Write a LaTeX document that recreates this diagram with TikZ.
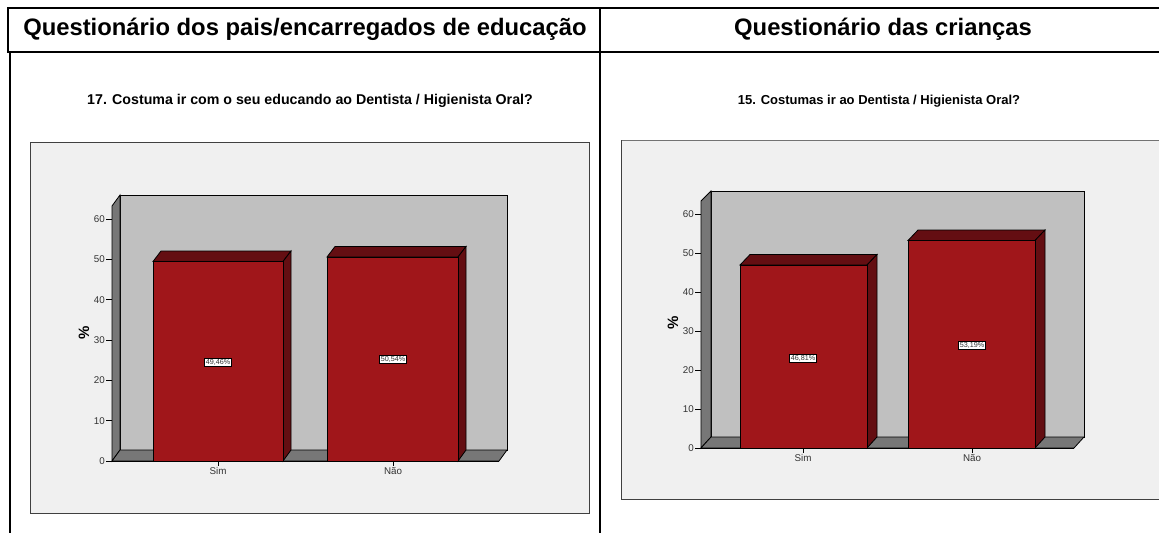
\documentclass[tikz,border=0pt]{standalone}
\usepackage{fontspec}
\setmainfont{Liberation Sans}
\definecolor{framebg}{HTML}{F0F0F0}
\definecolor{wallbg}{HTML}{C0C0C0}
\definecolor{sidegray}{HTML}{777777}
\definecolor{barfront}{HTML}{A0161A}
\definecolor{bardark}{HTML}{640E12}
\tikzset{
  x=1pt, y=-1pt,
  tableline/.style={line width=2pt, black},
  header/.style={font=\bfseries\fontsize{23.8}{28}\selectfont, anchor=base, inner sep=0pt},
  charttitle/.style={font=\bfseries\fontsize{14.2}{17}\selectfont, anchor=base, inner sep=0pt},
  framebox/.style={fill=framebg, draw=black!75, line width=0.8pt},
  wall/.style={fill=wallbg, draw=black, line width=0.8pt},
  side/.style={fill=sidegray, draw=black, line width=0.8pt},
  front/.style={fill=barfront, draw=black, line width=0.8pt},
  dark/.style={fill=bardark, draw=black, line width=0.8pt},
  ticklab/.style={font=\fontsize{9.8}{11}\selectfont, anchor=east, inner sep=1pt, text=black!80},
  catlab/.style={font=\fontsize{9.8}{11}\selectfont, anchor=north, inner sep=1pt, text=black!80},
  vallab/.style={font=\fontsize{7.2}{8}\selectfont, fill=white, draw=black, line width=0.6pt, inner sep=1.2pt, text=black!80},
  pctlab/.style={font=\bfseries\fontsize{15}{17}\selectfont, rotate=90},
}
\begin{document}
\begin{tikzpicture}
\useasboundingbox (0,0) rectangle (1159,533);
\fill[white] (0,0) rectangle (1159,533);

% ---------------- left chart ----------------
\draw[framebox] (30,142) rectangle (589,513);
% back wall, left wall, floor
\draw[wall] (120,195) rectangle (507,450);
\draw[side] (112,206) -- (120,195) -- (120,450) -- (112,461) -- cycle;
\draw[side] (112,461) -- (120,450) -- (507,450) -- (499,461) -- cycle;
% ticks
\foreach \v [evaluate=\v as \yy using 461-\v*4.033] in {0,10,...,60}{
  \draw[line width=0.7pt] (106,\yy) -- (112,\yy);
  \node[ticklab] (lt\v) at (106,\yy) {\v};
}
\node[pctlab] (lpct) at (84,333) {\%};
% bar Sim
\draw[dark] (153,261.5) -- (161,251) -- (291,251) -- (283,261.5) -- cycle;
\draw[dark] (283,261.5) -- (291,251) -- (291,450) -- (283,461) -- cycle;
\draw[front] (153,261.5) rectangle (283,461);
% bar Nao
\draw[dark] (327,257) -- (335,246.5) -- (466,246.5) -- (458,257) -- cycle;
\draw[dark] (458,257) -- (466,246.5) -- (466,450) -- (458,461) -- cycle;
\draw[front] (327,257) rectangle (458,461);
\draw[line width=0.7pt] (112,461) -- (499,461);
\draw[line width=0.7pt] (218,461) -- (218,466);
\draw[line width=0.7pt] (393,461) -- (393,466);
\node[catlab] (lsim) at (218,466) {Sim};
\node[catlab] (lnao) at (393,466) {Não};
\node[vallab] (lv1) at (218,362) {49,46\%};
\node[vallab] (lv2) at (393,359) {50,54\%};
\node[charttitle] (ltitle) at (310,104) {17. Costuma ir com o seu educando ao Dentista / Higienista Oral?};

% ---------------- right chart ----------------
\fill[framebg] (621,140) rectangle (1170,499);
\draw[black!55, line width=1pt] (621,140) -- (1170,140);
\draw[black!75, line width=0.8pt] (621,140) -- (621,499) -- (1170,499);
\draw[wall] (711,191) rectangle (1084,437);
\draw[side] (701,201) -- (711,191) -- (711,437) -- (701,448) -- cycle;
\draw[side] (701,448) -- (711,437) -- (1084,437) -- (1074,448) -- cycle;
\foreach \v [evaluate=\v as \yy using 448-\v*3.9] in {0,10,...,60}{
  \draw[line width=0.7pt] (695,\yy) -- (701,\yy);
  \node[ticklab] (rt\v) at (695,\yy) {\v};
}
\node[pctlab] (rpct) at (673,323) {\%};
% bar Sim
\draw[dark] (740,265) -- (750,254.5) -- (877,254.5) -- (867,265) -- cycle;
\draw[dark] (867,265) -- (877,254.5) -- (877,437) -- (867,448) -- cycle;
\draw[front] (740,265) rectangle (867,448);
% bar Nao
\draw[dark] (908,240.5) -- (918,230) -- (1045,230) -- (1035,240.5) -- cycle;
\draw[dark] (1035,240.5) -- (1045,230) -- (1045,437) -- (1035,448) -- cycle;
\draw[front] (908,240.5) rectangle (1035,448);
\draw[line width=0.7pt] (701,448) -- (1074,448);
\draw[line width=0.7pt] (803,448) -- (803,453);
\draw[line width=0.7pt] (972,448) -- (972,453);
\node[catlab] (rsim) at (803,453) {Sim};
\node[catlab] (rnao) at (972,453) {Não};
\node[vallab] (rv1) at (803,358) {46,81\%};
\node[vallab] (rv2) at (972,345) {53,19\%};
\node[charttitle, font=\bfseries\fontsize{13}{15}\selectfont] (rtitle) at (879,104) {15. Costumas ir ao Dentista / Higienista Oral?};

% ---------------- table ----------------
\draw[tableline] (7,8) -- (1159,8);
\draw[tableline] (7,52) -- (1159,52);
\draw[tableline] (8,7) -- (8,52);
\draw[tableline] (10,52) -- (10,533);
\draw[tableline] (600,7) -- (600,533);
\node[header] (h1) at (305,35) {Questionário dos pais/encarregados de educação};
\node[header] (h2) at (883,35) {Questionário das crianças};
\end{tikzpicture}
\end{document}
